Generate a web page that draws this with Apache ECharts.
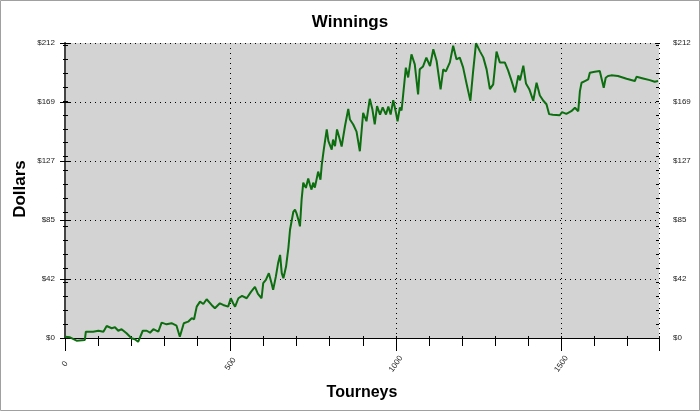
<!DOCTYPE html>
<html><head><meta charset="utf-8">
<script src="https://cdn.jsdelivr.net/npm/echarts@6/dist/echarts.min.js"></script>
<style>html,body{margin:0;padding:0;background:#fff}#c{width:700px;height:411px}</style>
</head><body><div id="c"></div>
<script>
var titleText = 'Winnings';
var xName = 'Tourneys';
var yName = 'Dollars';
var xTickLabels = [0, 500, 1000, 1500];
var yMax = 211.5;
var xMax = 1795;
var tourneys = [
0,15,35,60,63,85,101,116,126,141,
151,161,171,186,201,211,221,227,235,247,
257,267,282,292,307,322,337,347,352,359,
372,383,390,398,408,418,428,443,453,468,
478,493,501,508,514,524,535,549,562,574,
583,594,599,607,616,624,629,637,644,650,
655,660,668,675,680,690,695,700,707,710,
715,720,728,735,740,745,750,755,765,772,
776,782,791,796,801,806,810,816,822,828,
836,846,856,861,871,881,891,901,911,921,
929,936,943,952,960,970,977,984,992,1000,
1005,1012,1017,1022,1030,1037,1047,1057,1067,1072,
1082,1092,1103,1113,1123,1135,1143,1151,1163,1173,
1183,1193,1203,1214,1225,1233,1242,1254,1264,1274,
1284,1294,1304,1314,1329,1339,1349,1360,1370,1375,
1385,1393,1403,1415,1425,1435,1445,1455,1463,1474,
1495,1502,1515,1530,1541,1551,1556,1561,1571,1581,
1586,1601,1606,1616,1621,1628,1634,1641,1651,1671,
1697,1722,1727,1747,1767,1782,1792
];
var dollars = [
0.9,0.5,-1.9,-1.4,4.5,4.5,5.2,4.5,8.6,7.0,
7.7,5.2,6.3,3.4,-0.2,-0.9,-2.7,-3.4,5.2,5.2,
3.8,6.3,4.5,11.0,9.8,10.6,8.8,0.9,0.9,10.6,
11.7,14.2,13.4,22.5,26.1,24.4,27.8,23.7,21.3,24.9,
23.7,22.5,28.5,24.9,22.5,28.5,30.2,28.5,33.1,36.6,
31.6,28.5,39.3,41.7,46.5,39.5,34.5,43.8,53.7,59.6,
46.5,42.9,51.2,64.5,77.6,90.5,92.0,89.1,83.4,80.0,
99.2,111.4,107.6,114.3,110.0,106.4,111.4,107.8,119.3,113.5,
124.3,135.1,149.5,141.1,141.1,135.1,142.3,137.5,149.5,144.4,
137.3,151.8,164.3,156.7,153.1,148.0,133.9,161.5,155.4,171.5,
163.8,153.1,166.2,160.2,165.3,160.2,166.0,160.2,170.5,161.7,
155.4,165.3,163.1,174.6,193.8,186.8,203.4,196.2,174.6,192.6,
194.7,201.0,195.0,207.0,198.6,178.2,192.6,191.1,197.6,209.5,
199.8,201.0,194.0,181.8,170.0,190.4,211.3,205.5,201.2,192.6,
178.4,181.8,205.3,197.6,197.6,191.9,184.7,176.1,188.3,184.7,
195.2,182.5,178.4,170.1,183.0,173.9,170.3,167.6,160.5,160.0,
159.7,161.9,160.7,162.6,165.1,162.6,177.0,183.0,184.2,185.4,
190.2,190.9,190.2,191.4,190.2,179.4,186.6,187.8,188.3,187.8,
185.9,184.2,187.3,186.1,184.9,183.7,184.2
];

var seriesData = tourneys.map(function (t, i) { return [t, dollars[i]]; });
var FONT = '"Liberation Sans", Arial, sans-serif';
var yMajor = yMax / 5;
var dotted = { color: '#000', width: 1, type: [1, 4] };

function yFmt(v) { return '$' + Math.round(v); }
function xFmt(v) { return xTickLabels.indexOf(Math.round(v)) >= 0 ? String(Math.round(v)) : ''; }

function tickAxisX(pos, interval, inside, len) {
  return { type: 'value', position: pos, min: 0, max: xMax, interval: interval,
    axisLine: { show: false },
    axisTick: { show: true, inside: inside, length: len, lineStyle: { color: '#000' } },
    axisLabel: { show: false }, splitLine: { show: false } };
}
function tickAxisY(pos, interval, inside, len) {
  return { type: 'value', position: pos, min: 0, max: yMax, interval: interval,
    axisLine: { show: false },
    axisTick: { show: true, inside: inside, length: len, lineStyle: { color: '#000' } },
    axisLabel: { show: false }, splitLine: { show: false } };
}

var chart = echarts.init(document.getElementById('c'), null, { renderer: 'canvas' });
chart.setOption({
  animation: false,
  backgroundColor: '#fff',
  title: {
    text: titleText, left: 'center', top: 9,
    textStyle: { fontFamily: FONT, fontSize: 17, fontWeight: 'bold', color: '#000' }
  },
  graphic: [{
    type: 'rect', shape: { x: 0.5, y: 0.5, width: 699, height: 410 },
    style: { fill: 'none', stroke: '#a0a0a0', lineWidth: 1 }, silent: true
  }, {
    type: 'text', x: 20, y: 189, rotation: Math.PI / 2, silent: true,
    style: { text: yName, fill: '#000', font: 'bold 17px ' + FONT, align: 'center', verticalAlign: 'middle' }
  }],
  grid: { left: 65, right: 41, top: 43, bottom: 73, show: true, backgroundColor: '#d3d3d3', borderWidth: 0 },
  xAxis: [
    { type: 'value', position: 'bottom', min: 0, max: xMax, interval: 500,
      name: xName, nameLocation: 'middle', nameGap: 47,
      nameTextStyle: { fontFamily: FONT, fontSize: 16, fontWeight: 'bold', color: '#000' },
      axisLine: { show: true, lineStyle: { color: '#000', width: 1 } },
      axisTick: { show: true, length: 13, lineStyle: { color: '#000' } },
      axisLabel: { show: true, rotate: 55, margin: 26, align: 'center', verticalAlign: 'middle',
        fontFamily: FONT, fontSize: 8, color: '#222', formatter: xFmt },
      splitLine: { show: true, lineStyle: dotted } },
    tickAxisX('bottom', 100, false, 8),
    tickAxisX('top', 100, false, 2),
    tickAxisX('top', 100, true, 2),
    { type: 'value', position: 'top', min: 0, max: xMax, interval: 500,
      axisLine: { show: true, lineStyle: { color: '#000', width: 1 } }, axisTick: { show: false },
      axisLabel: { show: false }, splitLine: { show: false } }
  ],
  yAxis: [
    { type: 'value', position: 'left', min: 0, max: yMax, interval: yMajor,
      axisLine: { show: true, lineStyle: { color: '#000', width: 1 } },
      axisTick: { show: true, length: 5, lineStyle: { color: '#000' } },
      axisLabel: { show: true, margin: 10, fontFamily: FONT, fontSize: 8, color: '#222', formatter: yFmt },
      splitLine: { show: true, lineStyle: dotted } },
    tickAxisY('left', 10, false, 2),
    tickAxisY('left', 10, true, 3),
    { type: 'value', position: 'right', min: 0, max: yMax, interval: yMajor,
      axisLine: { show: true, lineStyle: { color: '#444', width: 2 } },
      axisTick: { show: true, length: 6, lineStyle: { color: '#000' } },
      axisLabel: { show: true, margin: 14, fontFamily: FONT, fontSize: 8, color: '#222', formatter: yFmt },
      splitLine: { show: false } },
    tickAxisY('right', 10, false, 2),
    tickAxisY('right', 10, true, 3)
  ],
  series: [{
    type: 'line', xAxisIndex: 0, yAxisIndex: 0, data: seriesData,
    showSymbol: false, symbol: 'none', clip: false,
    lineStyle: { color: '#0d6e10', width: 2 }
  }]
});
</script></body></html>
